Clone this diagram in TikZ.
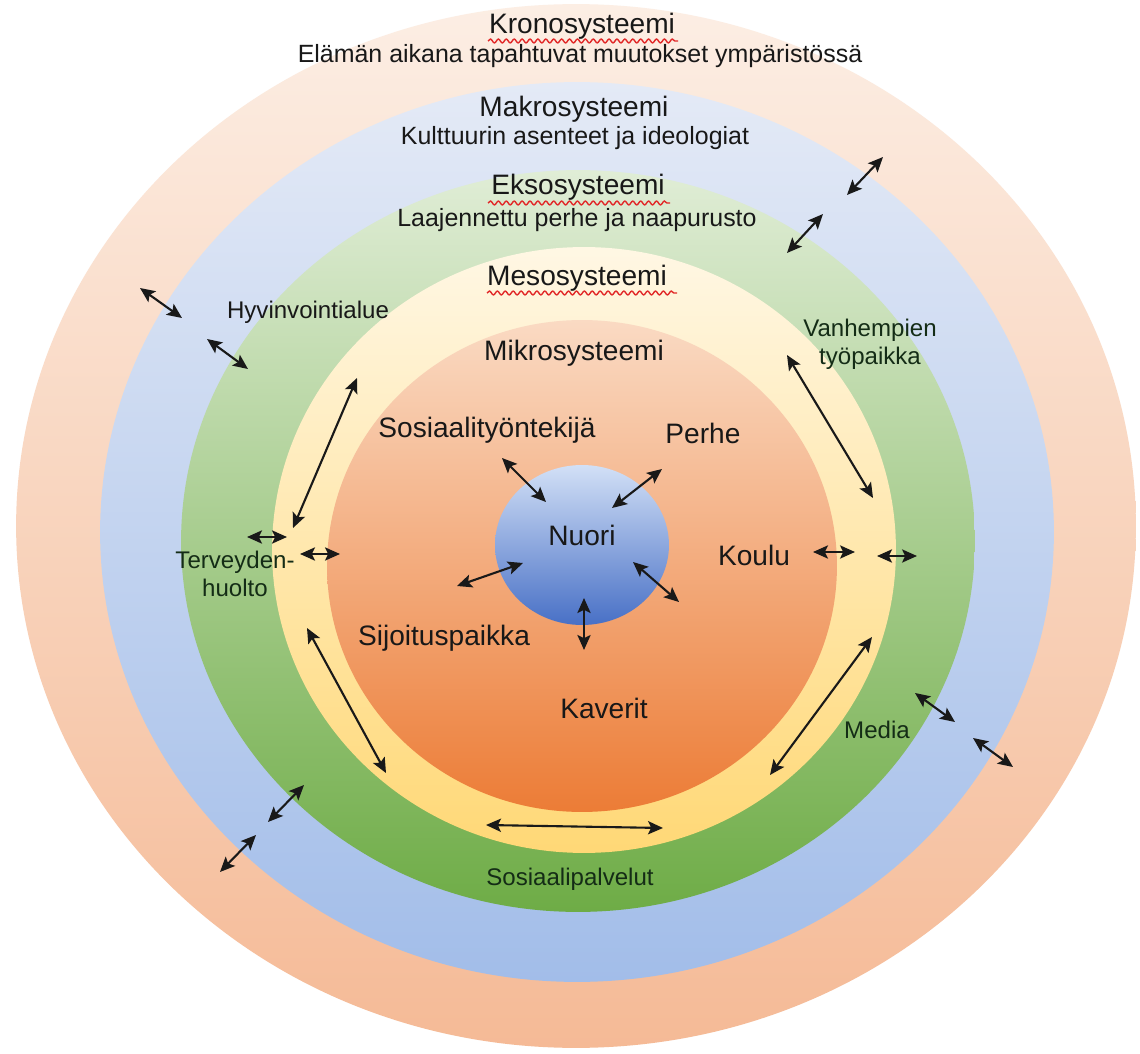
\documentclass[tikz,border=0pt]{standalone}
\usepackage{fontspec}
\setmainfont{Liberation Sans}
\usetikzlibrary{arrows.meta,decorations.pathmorphing}
\definecolor{kroT}{RGB}{252,238,228}
\definecolor{kroM}{RGB}{248,204,176}
\definecolor{kroB}{RGB}{245,186,150}
\definecolor{makT}{RGB}{228,234,246}
\definecolor{makM}{RGB}{196,211,240}
\definecolor{makB}{RGB}{162,189,233}
\definecolor{ekT}{RGB}{224,237,214}
\definecolor{ekM}{RGB}{150,199,120}
\definecolor{ekB}{RGB}{110,172,70}
\definecolor{meT}{RGB}{255,247,228}
\definecolor{meM}{RGB}{255,233,172}
\definecolor{meB}{RGB}{255,216,118}
\definecolor{miT}{RGB}{250,218,195}
\definecolor{miM}{RGB}{244,170,122}
\definecolor{miB}{RGB}{236,124,54}
\definecolor{nuT}{RGB}{210,224,246}
\definecolor{nuB}{RGB}{72,112,198}
\definecolor{txt}{RGB}{24,24,24}
\definecolor{gtxt}{RGB}{20,44,22}
\definecolor{spell}{RGB}{225,40,40}
\begin{document}
\begin{tikzpicture}[x=0.02cm,y=-0.02cm,
  big/.style={font=\fontsize{16}{19}\selectfont, text=txt, inner sep=0pt, anchor=base},
  sub/.style={font=\fontsize{14.2}{17}\selectfont, text=txt, inner sep=0pt, anchor=base},
  ringlbl/.style={font=\fontsize{13.7}{15.7}\selectfont, text=txt, inner sep=0pt, anchor=base, align=center},
  greenlbl/.style={ringlbl, text=gtxt},
  biarrow/.style={{Stealth[length=8.5pt,width=7.5pt,inset=1.8pt]}-{Stealth[length=8.5pt,width=7.5pt,inset=1.8pt]}, line width=1.2pt, draw=black!90},
  squiggle/.style={draw=spell, line width=0.8pt, decorate, decoration={snake, amplitude=1.1pt, segment length=4.5pt}}
]
\useasboundingbox (0,0) rectangle (1140,1054);
\fill[white] (0,0) rectangle (1140,1054);
% rings
\shade[top color=kroT, middle color=kroM, bottom color=kroB] (576,526) ellipse [x radius=11.2cm, y radius=10.44cm];
\shade[top color=makT, middle color=makM, bottom color=makB] (577,532) ellipse [x radius=9.54cm, y radius=9.0cm];
\shade[top color=ekT, middle color=ekM, bottom color=ekB] (578,541) ellipse [x radius=7.94cm, y radius=7.42cm];
\shade[top color=meT, middle color=meM, bottom color=meB] (584,550) ellipse [x radius=6.24cm, y radius=6.06cm];
\shade[top color=miT, middle color=miM, bottom color=miB] (582,566) ellipse [x radius=5.1cm, y radius=4.92cm];
\shade[top color=nuT, bottom color=nuB] (582,545) ellipse [x radius=1.74cm, y radius=1.6cm];

% titles
\node[big] (krono) at (582,34) {Kronosysteemi};
\node[sub] (elaman) at (580,63) {Elämän aikana tapahtuvat muutokset ympäristössä};
\node[big] (makro) at (574,117) {Makrosysteemi};
\node[sub] (kulttuuri) at (575,145) {Kulttuurin asenteet ja ideologiat};
\node[big] (ekso) at (578,195) {Eksosysteemi};
\node[sub] (laaj) at (577,227) {Laajennettu perhe ja naapurusto};
\node[big] (meso) at (577,286) {Mesosysteemi};
\node[big] (mikro) at (574,360) {Mikrosysteemi};

% spell-check underlines
\draw[squiggle] (488,41) -- (678,41);
\draw[squiggle] (488,203) -- (670,203);
\draw[squiggle] (487,293) -- (677,293);

% ring labels (multi-line: anchor is the last line's baseline)
\node[ringlbl] (hyvin) at (308,318) {Hyvinvointialue};
\node[greenlbl] (vanh) at (870,364) {Vanhempien\\työpaikka};
\node[greenlbl] (terv) at (235,596) {Terveyden-\\huolto};
\node[greenlbl] (media) at (877,738) {Media};
\node[greenlbl] (sospal) at (570,885) {Sosiaalipalvelut};

% micro labels
\node[big] (sostt) at (487,438) {Sosiaalityöntekijä};
\node[big] (perhe) at (703,443) {Perhe};
\node[big] (nuori) at (582,545) {Nuori};
\node[big] (koulu) at (754,565) {Koulu};
\node[big] (sijo) at (444,645) {Sijoituspaikka};
\node[big] (kaverit) at (604,718) {Kaverit};

% arrows
\foreach \n/\a/\b in {
  o1/{847,195}/{883,157}, o2/{787,253}/{823,214},
  o3/{140,288}/{182,318}, o4/{207,339}/{248,369},
  o5/{357,378}/{293,528}, o6/{247,537}/{287,537},
  o7/{300,554}/{340,554}, o8/{307,628}/{386,773},
  o9/{304,785}/{268,822}, o10/{256,835}/{220,872},
  o11/{486,825}/{663,828}, o12/{787,355}/{873,498},
  o13/{813,552}/{855,552}, o14/{877,556}/{917,556},
  o15/{872,637}/{770,775}, o16/{915,693}/{955,722},
  o17/{973,738}/{1013,767},
  n1/{502,458}/{546,502}, n2/{662,469}/{612,508},
  n3/{523,563}/{457,586}, n4/{633,562}/{679,602},
  n5/{584,598}/{584,650}}
{
  \coordinate (\n s) at (\a);
  \coordinate (\n e) at (\b);
  \draw[biarrow] (\n s) -- (\n e);
}
\end{tikzpicture}
\end{document}
